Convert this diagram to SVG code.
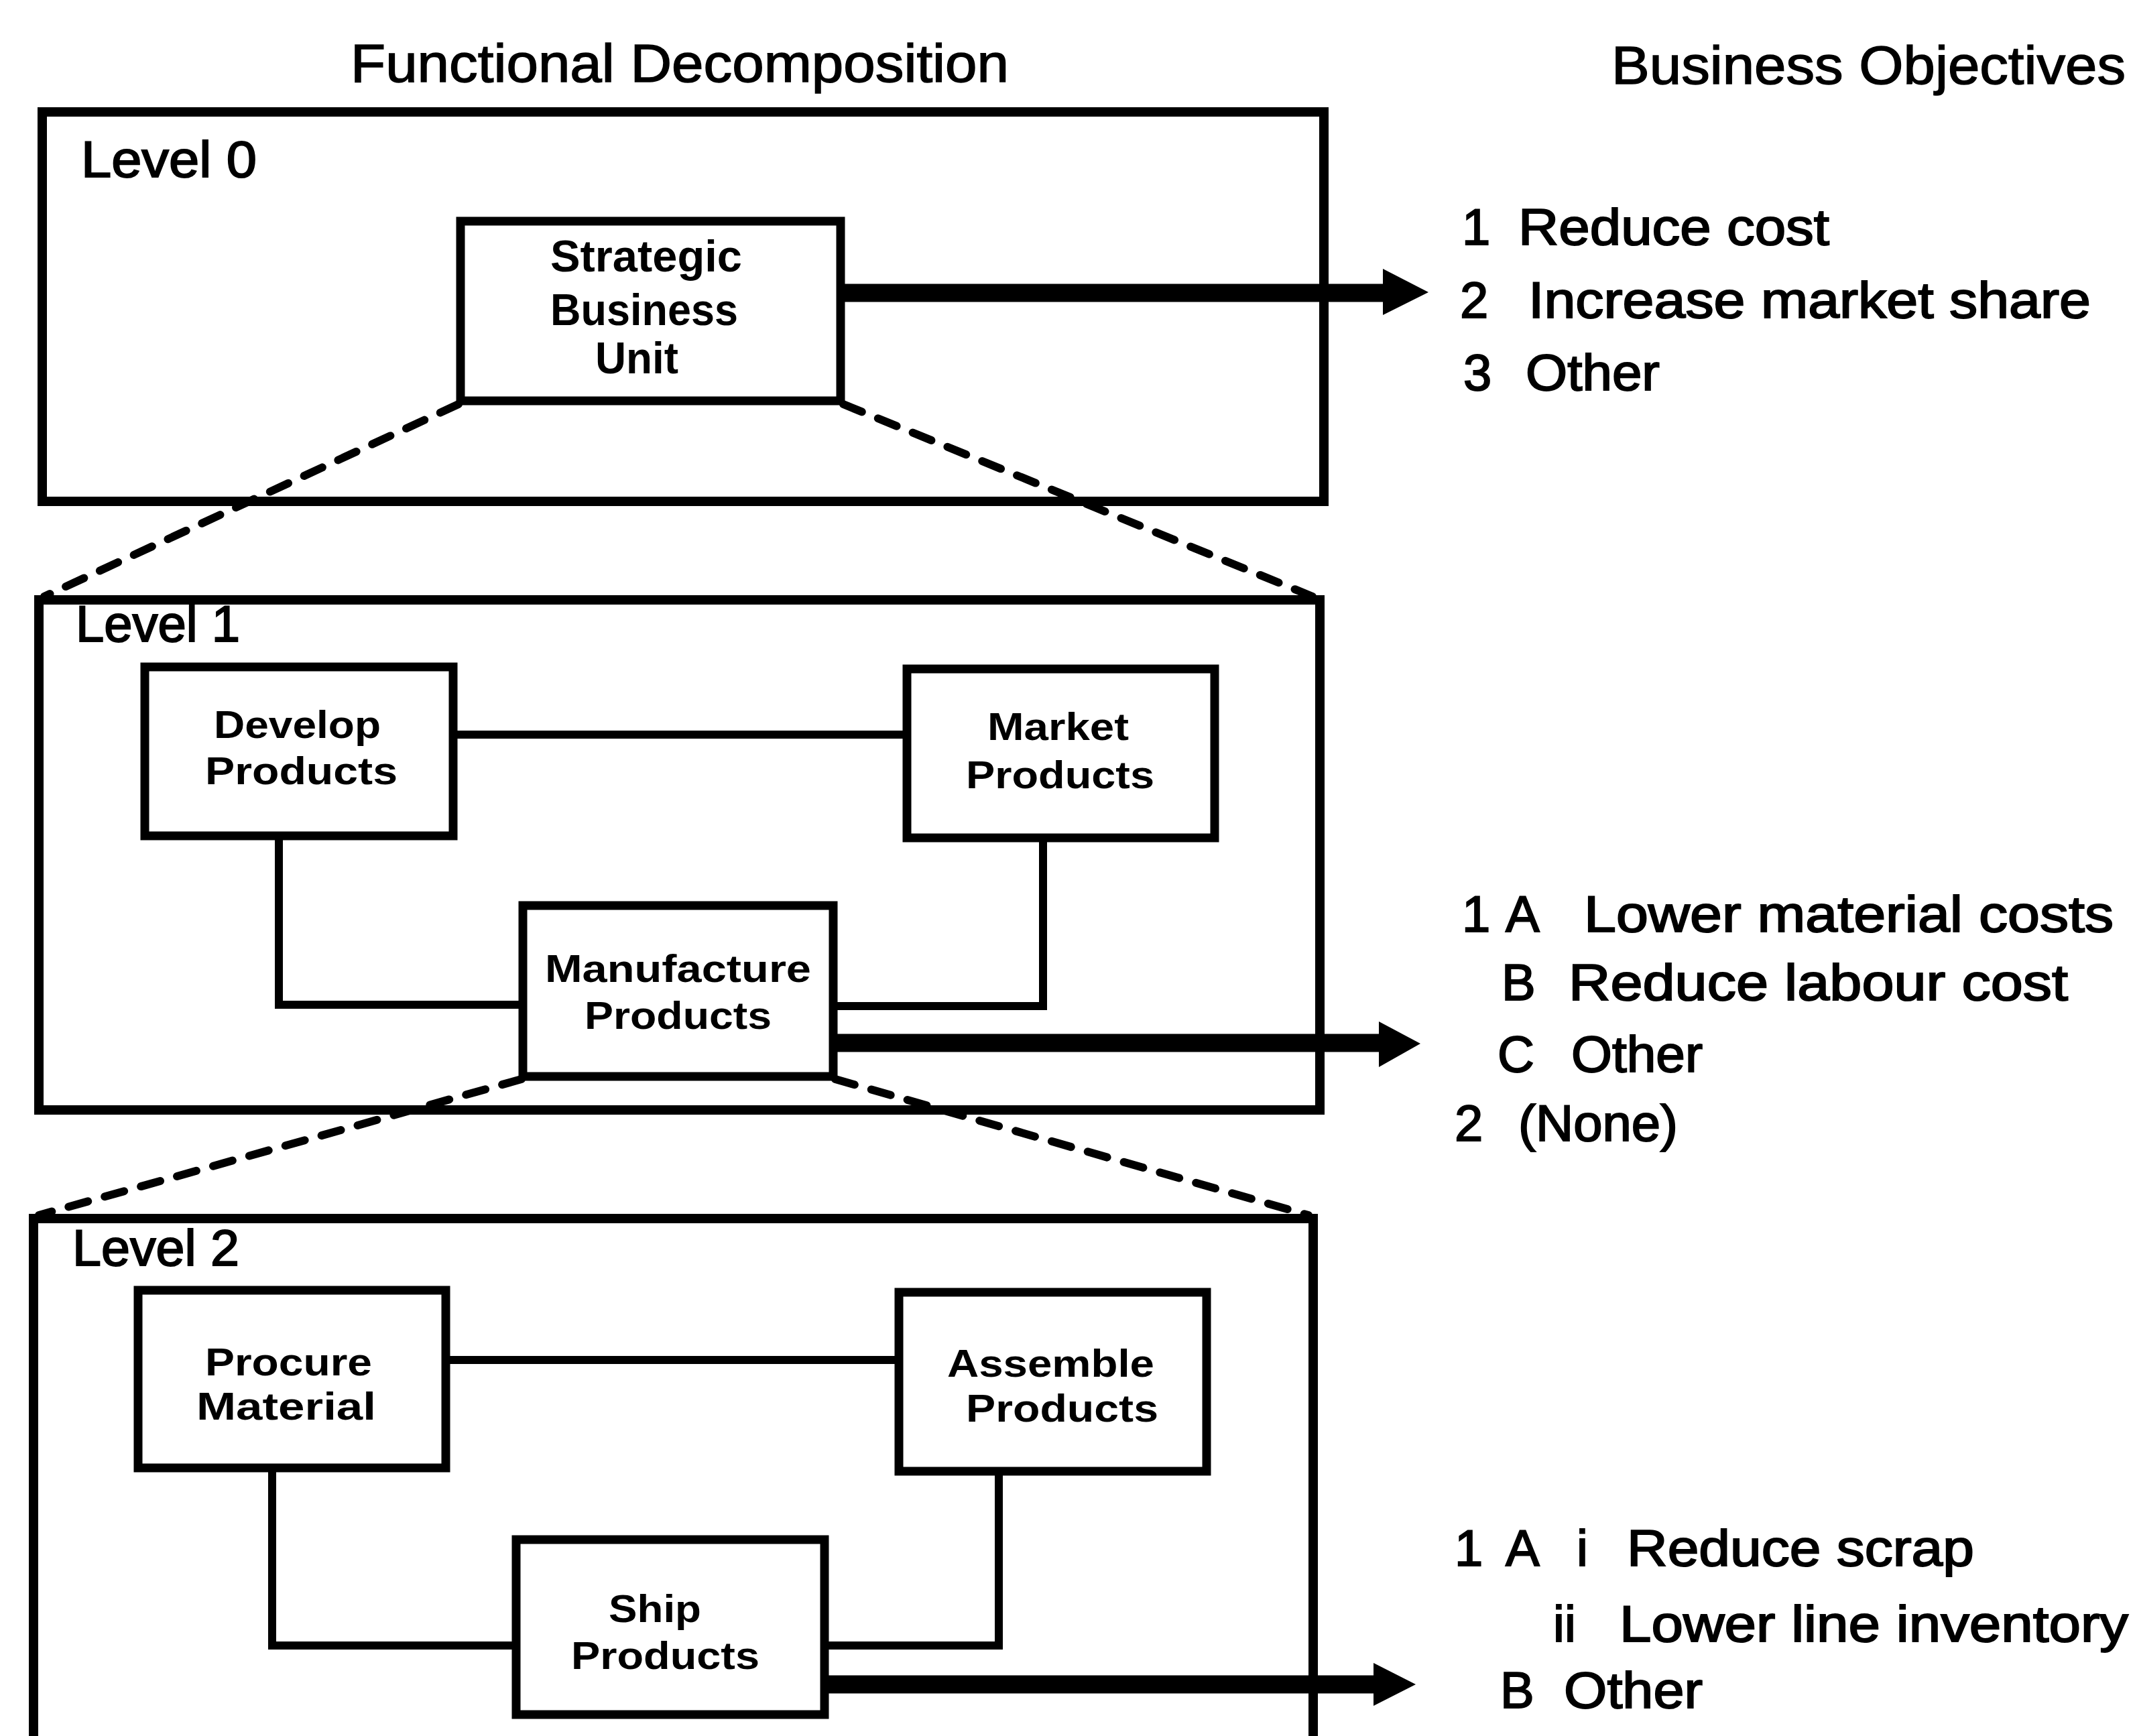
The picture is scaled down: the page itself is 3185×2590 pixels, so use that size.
<svg xmlns="http://www.w3.org/2000/svg" width="3185" height="2590" viewBox="0 0 3185 2590">
  <style>
    .frame { fill: none; stroke: #000; stroke-width: 14; }
    .box { fill: #fff; stroke: #000; stroke-width: 13; }
    .link { fill: none; stroke: #000; stroke-width: 12; stroke-linejoin: miter; }
    .zoom { fill: none; stroke: #000; stroke-width: 12; stroke-dasharray: 30 26; stroke-linecap: round; }
    .shaft { fill: none; stroke: #000; stroke-width: 27; }
    .head { fill: #000; }
    .hdr { font-family: "Liberation Sans", Arial, sans-serif; font-size: 80px; fill: #000; stroke: #000; stroke-width: 1.5; }
    .lvl { font-family: "Liberation Sans", Arial, sans-serif; font-size: 76px; fill: #000; stroke: #000; stroke-width: 2; }
    .lbl { font-family: "Liberation Sans", Arial, sans-serif; font-size: 66px; font-weight: bold; fill: #000; }
    .lbl2 { font-family: "Liberation Sans", Arial, sans-serif; font-size: 58px; font-weight: bold; fill: #000; }
    .obj { font-family: "Liberation Sans", Arial, sans-serif; font-size: 76px; fill: #000; stroke: #000; stroke-width: 2; }
  </style>

  <rect width="3185" height="2590" fill="#fff"/>

  <!-- column headings -->
  <g id="headings">
    <text class="hdr" x="523" y="122" textLength="982" lengthAdjust="spacingAndGlyphs">Functional Decomposition</text>
    <text class="hdr" x="2404" y="125" textLength="767" lengthAdjust="spacingAndGlyphs">Business Objectives</text>
  </g>

  <!-- decomposition level frames -->
  <g id="level0">
    <rect class="frame" x="63" y="167" width="1912" height="581"/>
    <text class="lvl" x="121" y="264" textLength="262" lengthAdjust="spacingAndGlyphs">Level 0</text>
  </g>
  <g id="level1">
    <rect class="frame" x="58" y="895" width="1911" height="761"/>
    <text class="lvl" x="113" y="957" textLength="245" lengthAdjust="spacingAndGlyphs">Level 1</text>
  </g>
  <g id="level2">
    <rect class="frame" x="50" y="1818" width="1909" height="900"/>
    <text class="lvl" x="108" y="1888" textLength="249" lengthAdjust="spacingAndGlyphs">Level 2</text>
  </g>

  <!-- connectors: expansion lines, links between functions, objective arrows -->
  <g id="connectors">
    <line class="zoom" x1="684" y1="603" x2="66" y2="890"/>
    <line class="zoom" x1="1258" y1="603" x2="1958" y2="890"/>
    <line class="zoom" x1="778" y1="1610" x2="58" y2="1813"/>
    <line class="zoom" x1="1246" y1="1610" x2="1952" y2="1813"/>

    <line class="link" x1="676" y1="1096" x2="1353" y2="1096"/>
    <polyline class="link" points="416,1247 416,1499 780,1499"/>
    <polyline class="link" points="1556,1250 1556,1501 1243,1501"/>

    <line class="link" x1="665" y1="2029" x2="1341" y2="2029"/>
    <polyline class="link" points="406,2190 406,2455 770,2455"/>
    <polyline class="link" points="1490,2195 1490,2455 1230,2455"/>

    <line class="shaft" x1="1259" y1="437" x2="2070" y2="437"/>
    <polygon class="head" points="2063,401 2131,436 2063,470"/>
    <line class="shaft" x1="1249" y1="1556" x2="2062" y2="1556"/>
    <polygon class="head" points="2057,1524 2119,1557 2057,1592"/>
    <line class="shaft" x1="1236" y1="2513" x2="2054" y2="2513"/>
    <polygon class="head" points="2049,2481 2112,2513 2049,2545"/>
  </g>

  <!-- function nodes -->
  <g id="sbu">
    <rect class="box" x="687" y="330" width="567" height="268"/>
    <text class="lbl" x="821" y="405" textLength="286" lengthAdjust="spacingAndGlyphs">Strategic</text>
    <text class="lbl" x="821" y="485" textLength="280" lengthAdjust="spacingAndGlyphs">Business</text>
    <text class="lbl" x="888" y="557" textLength="124" lengthAdjust="spacingAndGlyphs">Unit</text>
  </g>
  <g id="develop">
    <rect class="box" x="216" y="995" width="460" height="252"/>
    <text class="lbl2" x="319" y="1101" textLength="249" lengthAdjust="spacingAndGlyphs">Develop</text>
    <text class="lbl2" x="306" y="1170" textLength="287" lengthAdjust="spacingAndGlyphs">Products</text>
  </g>
  <g id="market">
    <rect class="box" x="1353" y="998" width="459" height="252"/>
    <text class="lbl2" x="1473" y="1104" textLength="211" lengthAdjust="spacingAndGlyphs">Market</text>
    <text class="lbl2" x="1441" y="1176" textLength="281" lengthAdjust="spacingAndGlyphs">Products</text>
  </g>
  <g id="manufacture">
    <rect class="box" x="780" y="1351" width="463" height="255"/>
    <text class="lbl2" x="813" y="1465" textLength="397" lengthAdjust="spacingAndGlyphs">Manufacture</text>
    <text class="lbl2" x="872" y="1535" textLength="279" lengthAdjust="spacingAndGlyphs">Products</text>
  </g>
  <g id="procure">
    <rect class="box" x="206" y="1925" width="459" height="265"/>
    <text class="lbl2" x="306" y="2052" textLength="249" lengthAdjust="spacingAndGlyphs">Procure</text>
    <text class="lbl2" x="293" y="2118" textLength="268" lengthAdjust="spacingAndGlyphs">Material</text>
  </g>
  <g id="assemble">
    <rect class="box" x="1341" y="1928" width="459" height="267"/>
    <text class="lbl2" x="1413" y="2054" textLength="309" lengthAdjust="spacingAndGlyphs">Assemble</text>
    <text class="lbl2" x="1441" y="2121" textLength="287" lengthAdjust="spacingAndGlyphs">Products</text>
  </g>
  <g id="ship">
    <rect class="box" x="770" y="2297" width="460" height="261"/>
    <text class="lbl2" x="908" y="2420" textLength="138" lengthAdjust="spacingAndGlyphs">Ship</text>
    <text class="lbl2" x="852" y="2490" textLength="281" lengthAdjust="spacingAndGlyphs">Products</text>
  </g>

  <!-- business objectives for each level -->
  <g id="objectives0">
    <text class="obj" x="2181" y="365">1</text>
    <text class="obj" x="2265" y="365" textLength="464" lengthAdjust="spacingAndGlyphs">Reduce cost</text>
    <text class="obj" x="2178" y="474">2</text>
    <text class="obj" x="2280" y="474" textLength="839" lengthAdjust="spacingAndGlyphs">Increase market share</text>
    <text class="obj" x="2183" y="582">3</text>
    <text class="obj" x="2276" y="582" textLength="200" lengthAdjust="spacingAndGlyphs">Other</text>
  </g>
  <g id="objectives1">
    <text class="obj" x="2181" y="1390">1</text>
    <text class="obj" x="2246" y="1390">A</text>
    <text class="obj" x="2363" y="1390" textLength="790" lengthAdjust="spacingAndGlyphs">Lower material costs</text>
    <text class="obj" x="2240" y="1492">B</text>
    <text class="obj" x="2340" y="1492" textLength="745" lengthAdjust="spacingAndGlyphs">Reduce labour cost</text>
    <text class="obj" x="2234" y="1599">C</text>
    <text class="obj" x="2344" y="1599" textLength="196" lengthAdjust="spacingAndGlyphs">Other</text>
    <text class="obj" x="2170" y="1702">2</text>
    <text class="obj" x="2265" y="1702" textLength="238" lengthAdjust="spacingAndGlyphs">(None)</text>
  </g>
  <g id="objectives2">
    <text class="obj" x="2170" y="2336">1</text>
    <text class="obj" x="2246" y="2336">A</text>
    <text class="obj" x="2352" y="2336">i</text>
    <text class="obj" x="2427" y="2336" textLength="518" lengthAdjust="spacingAndGlyphs">Reduce scrap</text>
    <text class="obj" x="2317" y="2449">ii</text>
    <text class="obj" x="2416" y="2449" textLength="759" lengthAdjust="spacingAndGlyphs">Lower line inventory</text>
    <text class="obj" x="2238" y="2548">B</text>
    <text class="obj" x="2333" y="2548" textLength="207" lengthAdjust="spacingAndGlyphs">Other</text>
  </g>
</svg>
